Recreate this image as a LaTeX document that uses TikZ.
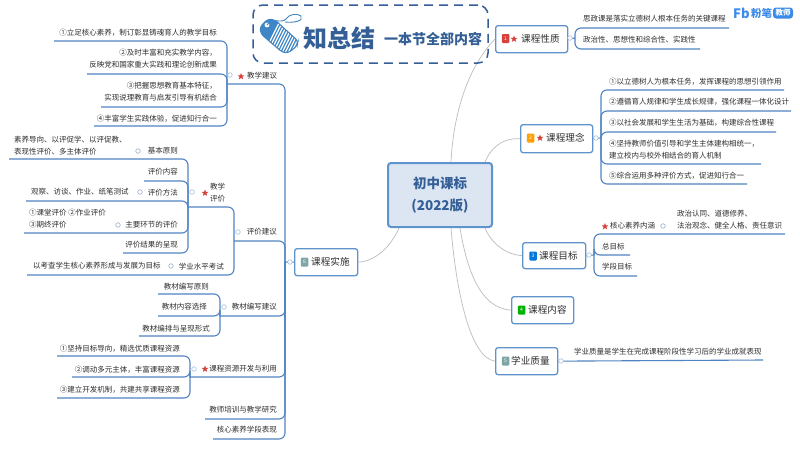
\documentclass[tikz,border=0pt]{standalone}
\usepackage{fontspec}
\setmainfont{Noto Sans CJK SC}
\usetikzlibrary{shapes.geometric}
\definecolor{brn}{HTML}{4F83C2}
\definecolor{boxb}{HTML}{5F93CC}
\definecolor{txt}{HTML}{2E2E2E}
\definecolor{ttl}{HTML}{345F96}
\definecolor{tagc}{HTML}{3F86C6}
\definecolor{dot}{HTML}{AFC6DE}
\definecolor{lnk}{HTML}{BDBDBD}
\definecolor{lg}{HTML}{3D8BE8}
\definecolor{corefill}{HTML}{DCE6F2}
\definecolor{stc}{HTML}{D8403C}
\tikzset{
  lt/.style={inner sep=0pt,text=txt,font=\fontsize{7.5}{12}\selectfont},
  lr/.style={lt,anchor=east,align=right},
  ll/.style={lt,anchor=west,align=left},
  twig/.style={draw=brn,line width=1.1pt,rounded corners=6pt},
  link/.style={draw=lnk,line width=.7pt},
  dotn/.style={circle,draw=dot,fill=white,line width=.7pt,minimum size=4.5pt,inner sep=0pt},
  starn/.style={star,star points=5,star point ratio=2.3,fill=stc,minimum size=7pt,inner sep=0pt},
  topic/.style={draw=boxb,fill=white,line width=1.3pt,rounded corners=2.5pt,inner sep=0pt},
  topt/.style={inner sep=0pt,anchor=west,text=txt,font=\fontsize{9.6}{12}\selectfont},
  icon/.style={rounded corners=1pt,minimum width=7.5pt,minimum height=9pt,inner sep=0pt,text=white,font=\fontsize{5}{6}\selectfont},
}
\newcommand{\topicbox}[5]{% name, x1, y1, x2, y2
  \node[topic,anchor=north west,minimum width=#4pt-#2pt,minimum height=#5pt-#3pt] (#1) at (#2,#3) {};
}
\begin{document}
\begin{tikzpicture}[x=1pt,y=-1pt]
\useasboundingbox (0,0) rectangle (800,450);
\fill[white] (0,0) rectangle (800,450);

% ---------- main nodes
\node[draw=boxb,fill=corefill,line width=2pt,rounded corners=3pt,minimum width=104pt,minimum height=64pt,inner sep=0pt,text=ttl,align=center,font=\fontsize{13.5}{22}\selectfont\bfseries] (core) at (440,195) {初中课标\\(2022版)};
\coordinate (c1) at (451,162);
\coordinate (c2) at (485,162);
\coordinate (c3) at (485,228);
\coordinate (c4) at (460,228);
\coordinate (c5) at (451,228);
\coordinate (c6) at (399,228);

\topicbox{tA}{495}{25}{567}{52}
\topicbox{tB}{520}{124}{592}{152}
\topicbox{tC}{522}{242}{585}{268}
\topicbox{tD}{511}{296}{573}{323}
\topicbox{tE}{495}{347}{557}{374}
\topicbox{tF}{294}{248}{357}{275}

% grey links from the centre
\draw[link] (c1) .. controls (453,120) and (465,70) .. (tA.west);
\draw[link] (c2) .. controls (490,150) and (500,138) .. (tB.west);
\draw[link] (c3) .. controls (492,245) and (508,255) .. (tC.west);
\draw[link] (c4) .. controls (467,270) and (480,308) .. (tD.west);
\draw[link] (c5) .. controls (456,290) and (470,358) .. (tE.west);
\draw[link] (c6) .. controls (390,248) and (375,261) .. (tF.east);

% topic contents
\node[icon,fill=stc] (iA) at (505.5,38.5) {1};
\node[starn] (sA) at (514,39) {};
\node[topt] (xA) at (521,38.5) {课程性质};
\node[icon,fill=orange!75!yellow] (iB) at (530.5,138) {2};
\node[starn] (sB) at (540,138) {};
\node[topt] (xB) at (546,138) {课程理念};
\node[icon,fill=blue!45!cyan!85!black] (iC) at (533,256) {3};
\node[topt] (xC) at (539,255.5) {课程目标};
\node[icon,fill=green!70!black] (iD) at (521.5,310) {4};
\node[topt] (xD) at (528,310) {课程内容};
\node[icon,fill=teal!45!gray!70] (iE) at (505.5,361) {5};
\node[topt] (xE) at (511,361) {学业质量};
\node[icon,fill=teal!45!gray!70] (iF) at (304.5,262) {6};
\node[topt] (xF) at (311,262) {课程实施};

% ---------- right: 课程性质
\coordinate (jA) at (575,38);
\coordinate (ra1) at (729,28);
\coordinate (ra2) at (700,49);
\draw[twig] (tA.east) -- (jA);
\draw[twig] (jA) |- (ra1);
\draw[twig] (jA) |- (ra2);
\node[dotn] (dA) at (570,38) {};
\node[ll] (ra1t) at (583,19) {思政课是落实立德树人根本任务的关键课程};
\node[ll] (ra2t) at (583,40) {政治性、思想性和综合性、实践性};

% ---------- right: 课程理念
\coordinate (jB) at (601,138);
\coordinate (rb1) at (784,90);
\coordinate (rb2) at (791,111);
\coordinate (rb3) at (776,132);
\coordinate (rb4) at (761,164);
\coordinate (rb5) at (747,184);
\draw[twig] (tB.east) -- (jB);
\foreach \c in {rb1,rb2,rb3,rb4,rb5} \draw[twig] (jB) |- (\c);
\node[dotn] (dB) at (596,138) {};
\node[ll] (rb1t) at (609,82) {①以立德树人为根本任务，发挥课程的思想引领作用};
\node[ll] (rb2t) at (609,102) {②遵循育人规律和学生成长规律，强化课程一体化设计};
\node[ll] (rb3t) at (609,123) {③以社会发展和学生生活为基础，构建综合性课程};
\node[ll] (rb4t) at (609,150) {④坚持教师价值引导和学生主体建构相统一，\\建立校内与校外相结合的育人机制};
\node[ll] (rb5t) at (609,176) {⑤综合运用多种评价方式，促进知行合一};

% ---------- right: 课程目标
\coordinate (jC) at (594,255);
\coordinate (rc1) at (785,234);
\coordinate (rc2) at (630,255);
\coordinate (rc3) at (637,276);
\draw[twig] (tC.east) -- (jC);
\foreach \c in {rc1,rc2,rc3} \draw[twig] (jC) |- (\c);
\node[dotn] (dC) at (589,255) {};
\node[starn] (sC1) at (605,226.5) {};
\node[ll] (rc1t) at (610,226) {核心素养内涵};
\node[dotn,draw=dot!80!gray] (dC1) at (663,226) {};
\node[ll] (rc1d) at (677,220) {政治认同、道德修养、\\法治观念、健全人格、责任意识};
\node[ll] (rc2t) at (602,247) {总目标};
\node[ll] (rc3t) at (602,267) {学段目标};

% ---------- right: 学业质量
\coordinate (re1) at (763,360);
\draw[twig] (tE.east) -- (re1);
\node[dotn] (dE) at (561,361) {};
\node[ll] (re1t) at (574,352) {学业质量是学生在完成课程阶段性学习后的学业成就表现};

% ---------- left trunk 课程实施
\coordinate (jF) at (285,262);
\coordinate (la) at (227,84);
\coordinate (lb) at (234,241);
\coordinate (lc) at (220,316);
\coordinate (ld) at (190,377);
\coordinate (le) at (205,419);
\coordinate (lf) at (213,439);
\draw[twig] (tF.west) -- (jF);
\foreach \c in {la,lb,lc,ld,le,lf} \draw[twig] (jF) |- (\c);
\node[dotn] (dF) at (290,262) {};
\node[starn] (sLa) at (241,76.5) {};
\node[ll] (lat) at (247,76) {教学建议};
\node[lr] (lbt) at (277,232) {评价建议};
\node[lr] (lct) at (277,307) {教材编写建议};
\node[starn] (sLd) at (205,369) {};
\node[lr] (ldt) at (277,369) {课程资源开发与利用};
\node[lr] (let) at (277,410) {教师培训与教学研究};
\node[lr] (lft) at (277,430) {核心素养学段表现};

% 教学建议
\coordinate (a1) at (54,41);
\coordinate (a2) at (87,74);
\coordinate (a3) at (101,107);
\coordinate (a4) at (94,126);
\foreach \c in {a1,a2,a3,a4} \draw[twig] (la) |- (\c);
\node[dotn] (dLa) at (230,75) {};
\node[lr] (a1t) at (217,33) {①立足核心素养，制订彰显铸魂育人的教学目标};
\node[lr] (a2t) at (217,59) {②及时丰富和充实教学内容，\\反映党和国家重大实践和理论创新成果};
\node[lr] (a3t) at (217,92) {③把握思想教育基本特征，\\实现说理教育与启发引导有机结合};
\node[lr] (a4t) at (217,119) {④丰富学生实践体验，促进知行合一};

% 评价建议
\coordinate (ba) at (188,207);
\coordinate (bb) at (27,275);
\draw[twig] (lb) |- (ba);
\draw[twig] (lb) |- (bb);
\node[dotn] (dLb) at (238,232) {};
\node[dotn] (dBa) at (192,192) {};
\node[starn] (sBa) at (205,193) {};
\node[ll] (bat) at (210,193) {教学\\评价};
\node[lr] (bbt) at (224,267) {学业水平考试};
\node[dotn,draw=dot!80!gray] (dBb) at (171,266) {};
\node[ll] (bbd) at (33,266) {以考查学生核心素养形成与发展为目标};

% 教学评价
\coordinate (e1) at (9,159);
\coordinate (e2) at (144,181);
\coordinate (e3) at (26,201);
\coordinate (e4) at (24,233);
\coordinate (e5) at (123,253);
\foreach \c in {e1,e2,e3,e4,e5} \draw[twig] (ba) |- (\c);
\node[lr] (e1t) at (178,151) {基本原则};
\node[dotn,draw=dot!80!gray] (de1) at (138,151) {};
\node[ll] (e1d) at (14,145.5) {素养导向、以评促学、以评促教、\\表现性评价、多主体评价};
\node[lr] (e2t) at (178,172) {评价内容};
\node[lr] (e3t) at (178,193) {评价方法};
\node[dotn,draw=dot!80!gray] (de3) at (140,192) {};
\node[ll] (e3d) at (31,192) {观察、访谈、作业、纸笔测试};
\node[lr] (e4t) at (178,225) {主要环节的评价};
\node[dotn,draw=dot!80!gray] (de4) at (118,225) {};
\node[ll] (e4d) at (29,219) {①课堂评价 ②作业评价\\③期终评价};
\node[lr] (e5t) at (178,245) {评价结果的呈现};

% 教材编写建议
\coordinate (f1) at (158,294);
\coordinate (f2) at (158,316);
\coordinate (f3) at (139,336);
\foreach \c in {f1,f2,f3} \draw[twig] (lc) |- (\c);
\node[dotn] (dLc) at (224,307) {};
\node[lr] (f1t) at (209,287) {教材编写原则};
\node[lr] (f2t) at (207,307) {教材内容选择};
\node[lr] (f3t) at (210,329) {教材编排与呈现形式};

% 课程资源开发与利用
\coordinate (g1) at (57,356);
\coordinate (g2) at (72,377);
\coordinate (g3) at (57,398);
\foreach \c in {g1,g2,g3} \draw[twig] (ld) |- (\c);
\node[dotn] (dLd) at (194,369) {};
\node[lr] (g1t) at (180,349) {①坚持目标导向，精选优质课程资源};
\node[lr] (g2t) at (180,370) {②调动多元主体，丰富课程资源};
\node[lr] (g3t) at (180,390) {③建立开发机制，共建共享课程资源};

% ---------- title banner
\node[draw=ttl,line width=1.5pt,dash pattern=on 9pt off 6pt,rounded corners=10pt,minimum width=235pt,minimum height=58pt,inner sep=0pt] (banner) at (370.5,34) {};
\begin{scope}
  \path[clip,rounded corners=3pt] (260,27) -- (268,19) -- (275,20) -- (298,41) -- (297,46) -- (288,53) -- (282,52) -- (261,34) -- cycle;
  \fill[tagc] (255,15) rectangle (300,55);
  \foreach \i in {8,11,...,50} \draw[white,line width=1.3pt] (255+\i,55) -- (275+\i,15);
\end{scope}
\draw[tagc,line width=1.1pt,rounded corners=3pt] (260,27) -- (268,19) -- (275,20) -- (298,41) -- (297,46) -- (288,53) -- (282,52) -- (261,34) -- cycle;
\fill[white] (267,25) circle (2.4);
\draw[tagc,line width=.9pt] (267,25) .. controls (272,17) and (282,24) .. (286,19) .. controls (289,14) and (297,13) .. (301,16) .. controls (304,21) and (294,23) .. (285,22);
\node[inner sep=0pt,anchor=west,text=ttl,font=\fontsize{24}{26}\selectfont\bfseries] (ttlA) at (303,38) {知总结};
\node[inner sep=0pt,anchor=west,text=ttl,font=\fontsize{14}{16}\selectfont\bfseries] (ttlB) at (384,39) {一本节全部内容};

% ---------- logo
\node[inner sep=0pt,anchor=west,text=lg,font=\fontsize{13}{14}\selectfont\bfseries] (lgA) at (733,13) {Fb};
\node[inner sep=0pt,anchor=west,text=lg,font=\fontsize{10.5}{12}\selectfont\bfseries] (lgB) at (751,13) {粉笔};
\node[fill=lg,rounded corners=3pt,text=white,inner sep=0pt,minimum width=20pt,minimum height=11pt,font=\fontsize{7.5}{9}\selectfont\bfseries] (lgC) at (783,13) {教师};
\end{tikzpicture}
\end{document}
